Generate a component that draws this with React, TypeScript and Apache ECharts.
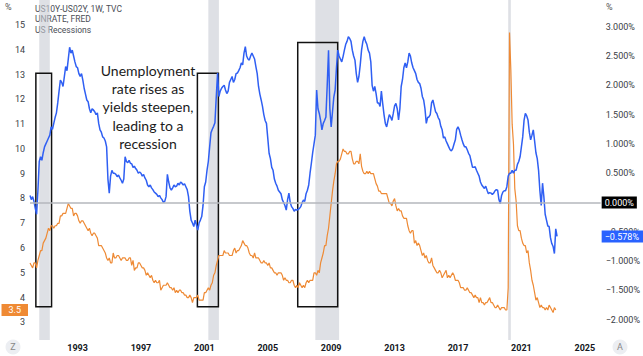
import React, { useEffect, useRef } from "react";
import * as echarts from "echarts";

// Monthly data starting January 1990
const START_YEAR = 1990;

// US10Y-US02Y spread (%), one row per year
const spreadByYear: number[][] = [
  [0.12, 0.05, 0.1, 0.02, -0.1, -0.2, 0.2, 0.7, 0.78, 0.72, 0.85, 0.95],
  [1.0, 1.05, 1.1, 1.15, 1.29, 1.25, 1.35, 1.45, 1.53, 1.7, 1.9, 2.09],
  [2.05, 1.98, 2.15, 2.32, 2.25, 2.45, 2.65, 2.55, 2.6, 2.5, 2.4, 2.32],
  [2.3, 2.2, 2.15, 2.2, 2.09, 1.95, 1.85, 1.75, 1.72, 1.6, 1.53, 1.6],
  [1.58, 1.55, 1.5, 1.53, 1.35, 1.24, 1.2, 1.12, 1.1, 1.05, 0.95, 0.4],
  [0.16, 0.45, 0.55, 0.5, 0.5, 0.48, 0.44, 0.47, 0.42, 0.38, 0.33, 0.4],
  [0.78, 0.7, 0.68, 0.72, 0.67, 0.66, 0.6, 0.62, 0.58, 0.55, 0.5, 0.52],
  [0.5, 0.45, 0.48, 0.42, 0.38, 0.3, 0.27, 0.3, 0.25, 0.22, 0.18, 0.16],
  [0.14, 0.1, 0.12, 0.08, 0.05, 0.0, 0.02, 0.1, 0.48, 0.35, 0.25, 0.21],
  [0.25, 0.3, 0.27, 0.28, 0.33, 0.3, 0.35, 0.33, 0.3, 0.32, 0.27, 0.22],
  [0.1, -0.15, -0.3, -0.35, -0.41, -0.3, -0.38, -0.47, -0.35, -0.3, -0.24, -0.05],
  [0.27, 0.35, 0.55, 0.7, 0.95, 1.19, 1.25, 1.3, 1.36, 1.8, 2.21, 1.81],
  [1.9, 1.95, 1.98, 2.0, 1.92, 1.86, 1.9, 2.05, 2.1, 2.15, 2.05, 2.1],
  [2.2, 2.21, 2.25, 2.3, 2.38, 2.35, 2.55, 2.66, 2.5, 2.45, 2.43, 2.5],
  [2.55, 2.5, 2.45, 2.32, 2.2, 1.98, 1.85, 1.75, 1.64, 1.5, 1.4, 1.35],
  [1.1, 0.84, 0.75, 0.6, 0.55, 0.4, 0.33, 0.28, 0.21, 0.18, 0.15, 0.05],
  [0.0, -0.05, -0.13, 0.05, 0.16, 0.0, -0.07, -0.1, -0.15, -0.12, -0.13, -0.12],
  [-0.1, -0.07, 0.0, 0.04, 0.02, 0.15, 0.21, 0.3, 0.5, 0.67, 0.85, 1.0],
  [1.15, 1.92, 1.6, 1.52, 1.4, 1.24, 1.35, 1.4, 1.46, 2.0, 2.6, 1.6],
  [1.29, 1.55, 1.8, 1.92, 2.3, 2.6, 2.5, 2.45, 2.4, 2.49, 2.6, 2.7],
  [2.75, 2.83, 2.8, 2.75, 2.6, 2.5, 2.43, 2.2, 2.05, 2.15, 2.35, 2.6],
  [2.75, 2.83, 2.75, 2.7, 2.6, 2.55, 2.4, 2.0, 1.9, 1.98, 1.86, 1.7],
  [1.7, 1.64, 1.9, 1.69, 1.5, 1.35, 1.29, 1.4, 1.5, 1.46, 1.4, 1.52],
  [1.65, 1.69, 1.6, 1.41, 1.6, 1.98, 2.1, 2.3, 2.38, 2.3, 2.4, 2.55],
  [2.5, 2.38, 2.3, 2.25, 2.2, 2.1, 2.05, 2.03, 1.95, 1.81, 1.75, 1.6],
  [1.35, 1.45, 1.46, 1.5, 1.7, 1.75, 1.65, 1.55, 1.52, 1.45, 1.41, 1.3],
  [1.24, 1.1, 1.12, 1.05, 1.0, 0.95, 0.9, 0.88, 0.92, 1.0, 1.07, 1.25],
  [1.29, 1.24, 1.15, 1.07, 1.0, 0.95, 0.95, 0.9, 0.84, 0.8, 0.7, 0.6],
  [0.6, 0.61, 0.55, 0.5, 0.45, 0.35, 0.3, 0.27, 0.24, 0.28, 0.21, 0.15],
  [0.17, 0.16, 0.14, 0.16, 0.2, 0.22, 0.21, 0.05, -0.02, 0.12, 0.18, 0.2],
  [0.2, 0.27, 0.45, 0.5, 0.5, 0.55, 0.5, 0.55, 0.55, 0.65, 0.7, 0.78],
  [0.95, 1.12, 1.4, 1.52, 1.48, 1.41, 1.2, 1.07, 1.15, 1.24, 1.05, 0.85],
  [0.75, 0.55, 0.2, -0.05, 0.33, 0.1, -0.2, -0.3, -0.4, -0.41, -0.6, -0.7],
  [-0.75, -0.87, -0.45, -0.578],
];

// UNRATE (%), one row per year
const unrateByYear: number[][] = [
  [5.4, 5.3, 5.2, 5.4, 5.4, 5.2, 5.5, 5.7, 5.9, 5.9, 6.2, 6.3],
  [6.4, 6.6, 6.8, 6.7, 6.9, 6.9, 6.8, 6.9, 6.9, 7.0, 7.0, 7.3],
  [7.3, 7.4, 7.4, 7.4, 7.6, 7.8, 7.7, 7.6, 7.6, 7.3, 7.4, 7.4],
  [7.3, 7.1, 7.0, 7.1, 7.1, 7.0, 6.9, 6.8, 6.7, 6.8, 6.6, 6.5],
  [6.6, 6.6, 6.5, 6.4, 6.1, 6.1, 6.1, 6.0, 5.9, 5.8, 5.6, 5.5],
  [5.6, 5.4, 5.4, 5.8, 5.6, 5.6, 5.7, 5.7, 5.6, 5.5, 5.6, 5.6],
  [5.6, 5.5, 5.5, 5.6, 5.6, 5.3, 5.5, 5.1, 5.2, 5.2, 5.4, 5.4],
  [5.3, 5.2, 5.2, 5.1, 4.9, 5.0, 4.9, 4.8, 4.9, 4.7, 4.6, 4.7],
  [4.6, 4.6, 4.7, 4.3, 4.4, 4.5, 4.5, 4.5, 4.6, 4.5, 4.4, 4.4],
  [4.3, 4.4, 4.2, 4.3, 4.2, 4.3, 4.3, 4.2, 4.2, 4.1, 4.1, 4.0],
  [4.0, 4.1, 4.0, 3.8, 4.0, 4.0, 4.0, 4.1, 3.9, 3.9, 3.9, 3.9],
  [4.2, 4.2, 4.3, 4.4, 4.3, 4.5, 4.6, 4.9, 5.0, 5.3, 5.5, 5.7],
  [5.7, 5.7, 5.7, 5.9, 5.8, 5.8, 5.8, 5.7, 5.7, 5.7, 5.9, 6.0],
  [5.8, 5.9, 5.9, 6.0, 6.1, 6.3, 6.2, 6.1, 6.1, 6.0, 5.8, 5.7],
  [5.7, 5.6, 5.8, 5.6, 5.6, 5.6, 5.5, 5.4, 5.4, 5.5, 5.4, 5.4],
  [5.3, 5.4, 5.2, 5.2, 5.1, 5.0, 5.0, 4.9, 5.0, 5.0, 5.0, 4.9],
  [4.7, 4.8, 4.7, 4.7, 4.6, 4.6, 4.7, 4.7, 4.5, 4.4, 4.5, 4.4],
  [4.6, 4.5, 4.4, 4.5, 4.4, 4.6, 4.7, 4.6, 4.7, 4.7, 4.7, 5.0],
  [5.0, 4.9, 5.1, 5.0, 5.4, 5.6, 5.8, 6.1, 6.1, 6.5, 6.8, 7.3],
  [7.8, 8.3, 8.7, 9.0, 9.4, 9.5, 9.5, 9.6, 9.8, 10.0, 9.9, 9.9],
  [9.8, 9.8, 9.9, 9.9, 9.6, 9.4, 9.4, 9.5, 9.5, 9.4, 9.8, 9.3],
  [9.1, 9.0, 9.0, 9.1, 9.0, 9.1, 9.0, 9.0, 9.0, 8.8, 8.6, 8.5],
  [8.3, 8.3, 8.2, 8.2, 8.2, 8.2, 8.2, 8.0, 7.8, 7.8, 7.7, 7.9],
  [8.0, 7.7, 7.5, 7.6, 7.5, 7.5, 7.3, 7.2, 7.2, 7.2, 6.9, 6.7],
  [6.6, 6.7, 6.7, 6.2, 6.3, 6.1, 6.2, 6.1, 5.9, 5.7, 5.8, 5.6],
  [5.7, 5.5, 5.4, 5.4, 5.6, 5.3, 5.2, 5.1, 5.0, 5.0, 5.1, 5.0],
  [4.8, 4.9, 5.0, 5.1, 4.8, 4.9, 4.8, 4.9, 5.0, 4.9, 4.7, 4.7],
  [4.7, 4.6, 4.4, 4.4, 4.4, 4.3, 4.3, 4.4, 4.3, 4.2, 4.2, 4.1],
  [4.0, 4.1, 4.0, 4.0, 3.8, 4.0, 3.8, 3.8, 3.7, 3.8, 3.8, 3.9],
  [4.0, 3.8, 3.8, 3.7, 3.6, 3.6, 3.7, 3.6, 3.5, 3.6, 3.6, 3.6],
  [3.5, 3.5, 4.4, 14.7, 13.2, 11.0, 10.2, 8.4, 7.9, 6.9, 6.7, 6.7],
  [6.4, 6.2, 6.1, 6.1, 5.8, 5.9, 5.4, 5.1, 4.7, 4.5, 4.2, 3.9],
  [4.0, 3.8, 3.6, 3.7, 3.6, 3.6, 3.5, 3.6, 3.5, 3.7, 3.6, 3.5],
  [3.4, 3.6, 3.5],
];

// US recessions [start, end] in decimal years
const recessions: number[][] = [
  [1990.583, 1991.25],
  [2001.25, 2001.917],
  [2008.0, 2009.5],
  [2020.167, 2020.333],
];

// Annotation boxes [xStart, xEnd, unrateTop, unrateBottom]
const boxes: number[][] = [
  [1990.37, 1991.36, 13.05, 3.63],
  [2000.56, 2001.885, 13.05, 3.63],
  [2006.89, 2009.41, 14.3, 3.63],
];

const xTicks = [1993, 1997, 2001, 2005, 2009, 2013, 2017, 2021, 2025];
const leftTicks = [3, 4, 5, 6, 7, 8, 9, 10, 11, 12, 13, 14, 15];
const rightTicks = [-2, -1.5, -1, -0.5, 0, 0.5, 1, 1.5, 2, 2.5, 3];

const legendLines = ["US10Y-US02Y, 1W, TVC", "UNRATE, FRED", "US Recessions"];
const noteLines = ["Unemployment", "rate rises as", "yields steepen,", "leading to a", "recession"];

const BLUE = "#2f5ff3";
const ORANGE = "#ee8a35";
const FONT = "Roboto, 'Noto Sans', sans-serif";

const fmtPct = (v: number) => (v < 0 ? "\u2212" : "") + Math.abs(v).toFixed(3) + "%";

export default function App() {
  const ref = useRef<HTMLDivElement>(null);

  useEffect(() => {
    if (!ref.current) return;
    const chart = echarts.init(ref.current, undefined, { renderer: "svg" });

    const spread = spreadByYear.flat().map((v, i) => [START_YEAR + i / 12, v]);
    const unrate = unrateByYear.flat().map((v, i) => [START_YEAR + i / 12, v]);
    const lastSpread = spread[spread.length - 1][1];
    const lastUnrate = unrate[unrate.length - 1][1];

    const recessionAreas = recessions.map(([a, b]) => [
      { xAxis: a, itemStyle: { color: "rgba(200,203,212,0.6)", borderWidth: 0 } },
      { xAxis: b },
    ]);
    const boxAreas = boxes.map(([a, b, t, btm]) => [
      {
        xAxis: a,
        yAxis: t,
        itemStyle: { color: "rgba(0,0,0,0)", borderColor: "#111", borderWidth: 1.5 },
      },
      { xAxis: b, yAxis: btm },
    ]);

    const axisText = { color: "#3a3d45", fontSize: 9, fontFamily: FONT };
    const hiddenLine = { color: "rgba(0,0,0,0)", width: 0 };

    const option: any = {
      animation: false,
      backgroundColor: "#ffffff",
      textStyle: { fontFamily: FONT },
      grid: { left: 30, right: 42, top: 0, bottom: 16, containLabel: false },
      xAxis: {
        type: "value",
        min: 1990,
        max: 2026,
        axisLine: { show: false },
        axisTick: { show: false },
        splitLine: { show: false },
        axisLabel: {
          customValues: xTicks,
          formatter: (v: number) => String(Math.round(v)),
          color: "#131722",
          fontSize: 9,
          fontWeight: "bold",
          margin: 3,
          fontFamily: FONT,
        },
      },
      yAxis: [
        {
          type: "value",
          position: "left",
          min: 2.29,
          max: 16.01,
          axisLine: { show: false },
          axisTick: { show: false },
          splitLine: { show: false },
          axisLabel: { ...axisText, customValues: leftTicks, margin: 5, formatter: (v: number) => String(v) },
        },
        {
          type: "value",
          position: "right",
          min: -2.346,
          max: 3.456,
          axisLine: { show: false },
          axisTick: { show: false },
          splitLine: { show: false },
          axisLabel: { ...axisText, customValues: rightTicks, margin: 5, formatter: fmtPct },
        },
      ],
      series: [
        {
          name: "UNRATE",
          type: "line",
          yAxisIndex: 0,
          data: unrate,
          showSymbol: false,
          symbol: "none",
          lineStyle: { color: ORANGE, width: 1.2 },
          z: 3,
          markArea: {
            silent: true,
            data: [...recessionAreas, ...boxAreas],
          },
          markLine: {
            silent: true,
            symbol: ["none", "none"],
            data: [
              {
                yAxis: lastUnrate,
                lineStyle: hiddenLine,
                label: {
                  show: true,
                  position: "start",
                  formatter: String(lastUnrate),
                  backgroundColor: "#ef8a34",
                  color: "#fff",
                  fontSize: 9,
                  padding: [2, 7, 1, 7],
                  distance: 2,
                  fontFamily: FONT,
                },
              },
            ],
          },
        },
        {
          name: "US10Y-US02Y",
          type: "line",
          yAxisIndex: 1,
          data: spread,
          showSymbol: false,
          symbol: "none",
          lineStyle: { color: BLUE, width: 1.5 },
          z: 4,
          markLine: {
            silent: true,
            symbol: ["none", "none"],
            data: [
              {
                yAxis: 0,
                lineStyle: { color: "#b5b7bd", width: 1.5, type: "solid" },
                label: {
                  show: true,
                  position: "end",
                  formatter: fmtPct(0),
                  backgroundColor: "#000",
                  color: "#fff",
                  fontSize: 9,
                  padding: [2, 3, 1, 3],
                  distance: 1,
                  fontFamily: FONT,
                },
              },
              {
                yAxis: lastSpread,
                lineStyle: hiddenLine,
                label: {
                  show: true,
                  position: "end",
                  formatter: fmtPct(lastSpread),
                  backgroundColor: "#2962ff",
                  color: "#fff",
                  fontSize: 9,
                  padding: [2, 4, 1, 3],
                  distance: 1,
                  fontFamily: FONT,
                },
              },
            ],
          },
        },
      ],
      graphic: [
        { type: "text", left: 5, top: 2, style: { text: "%", fill: "#555", fontSize: 9, fontFamily: FONT } },
        { type: "text", left: 606, top: 2, style: { text: "%", fill: "#555", fontSize: 9, fontFamily: FONT } },
        ...legendLines.map((t, i) => ({
          type: "text",
          left: 35,
          top: 4 + i * 10.5,
          style: { text: t, fill: "#4a4d55", fontSize: 8.5, fontFamily: FONT },
        })),
        {
          type: "text",
          x: 148,
          y: 61,
          style: {
            text: noteLines.join("\n"),
            fill: "#1b1b1b",
            fontSize: 14,
            lineHeight: 18.3,
            align: "center",
            verticalAlign: "top",
            fontFamily: "Lato, 'Open Sans', sans-serif",
          },
        },
        { type: "circle", shape: { cx: 13, cy: 347, r: 7.5 }, style: { fill: "#eceef2" } },
        {
          type: "text",
          x: 13,
          y: 347,
          style: { text: "Z", fill: "#888", fontSize: 9, align: "center", verticalAlign: "middle", fontFamily: FONT },
        },
        { type: "circle", shape: { cx: 620, cy: 347, r: 7.5 }, style: { fill: "#eceef2" } },
        {
          type: "text",
          x: 620,
          y: 347,
          style: { text: "A", fill: "#888", fontSize: 9, align: "center", verticalAlign: "middle", fontFamily: FONT },
        },
      ],
    };

    chart.setOption(option);
    return () => chart.dispose();
  }, []);

  return (
    <div
      ref={ref}
      style={{ position: "fixed", left: 0, top: 0, width: 643, height: 356, background: "#fff" }}
    />
  );
}
